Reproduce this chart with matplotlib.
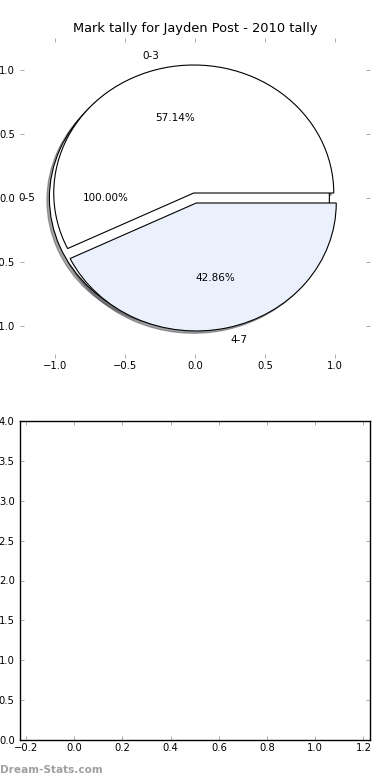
import matplotlib
matplotlib.use("Agg")
import matplotlib.pyplot as plt

TITLE = "Mark tally for Jayden Post - 2010 tally"

# outer pie: a single bucket -> 100%
OUTER_LABELS = ["0-5"]
OUTER_VALUES = [7]

# inner pie: marks split in two buckets (4 of 7, 3 of 7)
INNER_LABELS = ["0-3", "4-7"]
INNER_VALUES = [4, 3]

PIE_TICKS = [-1.0, -0.5, 0.0, 0.5, 1.0]
LOW_XTICKS = [-0.2, 0.0, 0.2, 0.4, 0.6, 0.8, 1.0, 1.2]
LOW_YTICKS = [0.0, 0.5, 1.0, 1.5, 2.0, 2.5, 3.0, 3.5, 4.0]

C_BLUE = "#eaf0fc"
TICK_FS = 7.2
W = 390
H = 780


def style_ticks(ax):
    ax.tick_params(axis="both", which="both", direction="in", length=3,
                   width=0.5, color="0.55", top=True, right=True,
                   labelsize=TICK_FS, labelcolor="black")
    ax.tick_params(axis="x", pad=2.5)
    ax.tick_params(axis="y", pad=3.5)


fig = plt.figure(figsize=(W / 100, H / 100), dpi=100)
fig.patch.set_facecolor("white")

# ---- top: pie (old-style, not equal aspect, no frame)
ax = fig.add_axes([20 / W, 1 - 358 / H, 350 / W, 320 / H])
wp = dict(edgecolor="black", linewidth=0.8)
shadow = dict(ox=-0.013, oy=-0.013)
ax.pie(OUTER_VALUES, labels=OUTER_LABELS, explode=[0.04], colors=["white"],
       autopct="%1.2f%%", shadow=shadow, startangle=0, wedgeprops=wp,
       textprops=dict(fontsize=7.5))
ax.pie(INNER_VALUES, labels=INNER_LABELS, explode=[0.04, 0.04],
       colors=["white", C_BLUE], autopct="%1.2f%%", shadow=shadow,
       startangle=0, wedgeprops=wp, textprops=dict(fontsize=7.5))
ax.set_aspect("auto")
ax.set_frame_on(False)
ax.set_xlim(-1.25, 1.25)
ax.set_ylim(-1.25, 1.25)
ax.set_xticks(PIE_TICKS)
ax.set_yticks(PIE_TICKS)
style_ticks(ax)
ax.set_title(TITLE, fontsize=9.4, pad=4)

# ---- bottom: empty axes
ax2 = fig.add_axes([19.5 / W, 1 - 740 / H, 350.5 / W, 319 / H])
ax2.set_xlim(-0.227, 1.227)
ax2.set_ylim(0, 4)
ax2.set_xticks(LOW_XTICKS)
ax2.set_yticks(LOW_YTICKS)
for sp in ax2.spines.values():
    sp.set_linewidth(1.0)
style_ticks(ax2)

fig.text(0.0, 1 - 770 / H, "Dream-Stats.com", ha="left", va="center",
         fontsize=7.6, fontweight="bold", color="#a0a0a0")

fig.savefig("out.png", dpi=100, facecolor="white")
